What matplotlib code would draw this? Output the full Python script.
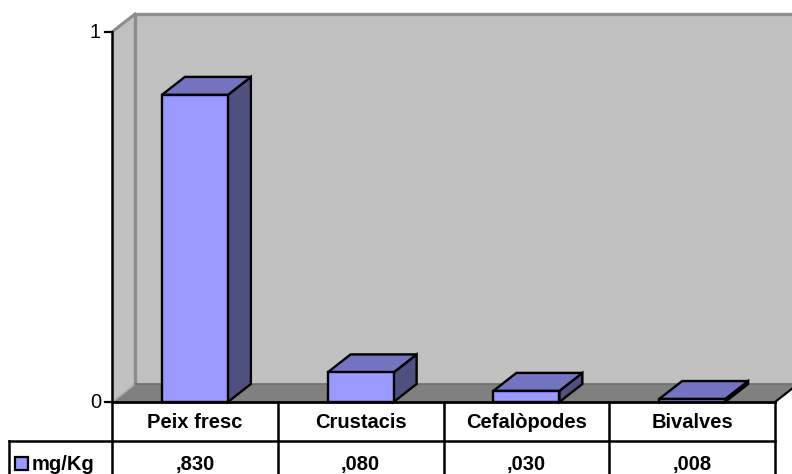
import matplotlib.pyplot as plt
from matplotlib.patches import Polygon, Rectangle

plt.rcParams['font.family'] = ['Liberation Sans', 'DejaVu Sans']

categories = ['Peix fresc', 'Crustacis', 'Cefalòpodes', 'Bivalves']
values = [0.830, 0.080, 0.030, 0.008]
value_labels = [',830', ',080', ',030', ',008']
series_name = 'mg/Kg'
yticks = [0, 1]

W, H = 792, 474
fig = plt.figure(figsize=(W / 100, H / 100), dpi=100)

# plot box in pixels, y measured from the top
L, R, B, T = 112, 775, 402, 32
ax = fig.add_axes([L / W, 1 - B / H, (R - L) / W, (B - T) / H])
n = len(categories)
ax.set_xlim(0, n)
ax.set_ylim(0, 1)
ax.axis('off')

# data units per pixel
sx = n / (R - L)
sy = 1 / (B - T)
dx, dy = 23 * sx, 18 * sy
right_edge = (W - L) * sx + dx

front = '#9999FF'
top_c = '#7373C0'
side_c = '#4F4F80'
wall_line = '#8C8C8C'

# walls and floor
ax.add_patch(Polygon([(dx, dy), (right_edge, dy), (right_edge, 1 + dy), (dx, 1 + dy)],
                     closed=True, fc='#C0C0C0', ec='none', clip_on=False, zorder=0.2))
ax.add_patch(Polygon([(0, 0), (0, 1), (dx, 1 + dy), (dx, dy)],
                     closed=True, fc='#C0C0C0', ec='none', clip_on=False, zorder=0.2))
ax.add_patch(Polygon([(0, 0), (n, 0), (n + dx, dy), (dx, dy)],
                     closed=True, fc='#808080', ec='none', clip_on=False, zorder=0.3))
ax.plot([dx, dx, right_edge], [dy, 1 + dy, 1 + dy], color=wall_line, lw=2.4, clip_on=False,
        solid_capstyle='butt', zorder=0.5)
ax.plot([0, dx], [1, 1 + dy], color=wall_line, lw=2.2, clip_on=False, zorder=0.5)
ax.plot([0, dx], [0, dy], color='#B0B0B0', lw=1.3, clip_on=False, zorder=0.5)
ax.plot([dx, right_edge], [dy, dy], color='#6E6E6E', lw=1.2, clip_on=False, zorder=0.5)
ax.plot([n, n + dx], [0, dy], color='black', lw=1.6, clip_on=False, zorder=0.6)

# 3D bars
bw = 66 * sx
for i, v in enumerate(values):
    x0 = i + 0.5 - bw / 2
    ax.add_patch(Polygon([(x0 + bw, 0), (x0 + bw + dx, dy), (x0 + bw + dx, v + dy), (x0 + bw, v)],
                         closed=True, fc=side_c, ec='black', lw=1.7, joinstyle='miter',
                         clip_on=False, zorder=3))
    ax.add_patch(Polygon([(x0, v), (x0 + dx, v + dy), (x0 + bw + dx, v + dy), (x0 + bw, v)],
                         closed=True, fc=top_c, ec='black', lw=1.7, joinstyle='miter',
                         clip_on=False, zorder=3))
    ax.add_patch(Rectangle((x0, 0), bw, v, fc=front, ec='black', lw=1.7,
                           joinstyle='miter', clip_on=False, zorder=3))

# value axis
bottom = -(H - B) * sy
ax.plot([0, 0], [1, bottom], color='black', lw=1.8, clip_on=False, zorder=4)
for t in yticks:
    ax.plot([-7 * sx, 0], [t, t], color='black', lw=1.6, clip_on=False, zorder=4)
    ax.text(-11 * sx, t, str(t), ha='right', va='center', fontsize=14.5, clip_on=False)

# data table (bottom border is cut off by the image edge)
r1 = -39 * sy
x_fig0 = (-L + 9) * sx
ax.plot([0, n], [0, 0], color='black', lw=2.0, clip_on=False, zorder=4)
ax.plot([x_fig0, n], [r1, r1], color='black', lw=1.8, clip_on=False, zorder=4)
ax.plot([x_fig0, x_fig0], [r1, bottom], color='black', lw=1.8, clip_on=False, zorder=4)
for k in range(1, n + 1):
    ax.plot([k, k], [0, bottom], color='black', lw=1.8, clip_on=False, zorder=4)

base1 = -26 * sy
base2 = -68 * sy
for i, (c, lab) in enumerate(zip(categories, value_labels)):
    ax.text(i + 0.5, base1, c, ha='center', va='baseline', fontsize=14.5,
            fontweight='bold', clip_on=False)
    ax.text(i + 0.5, base2, lab, ha='center', va='baseline', fontsize=14.5,
            fontweight='bold', clip_on=False)

ax.add_patch(Rectangle(((-L + 15) * sx, base2), 13 * sx, 13 * sy,
                       fc=front, ec='black', lw=1.6, clip_on=False, zorder=4))
ax.text((-L + 32) * sx, base2, series_name, ha='left', va='baseline',
        fontsize=14.5, fontweight='bold', clip_on=False)

fig.savefig('out.png', dpi=100)
